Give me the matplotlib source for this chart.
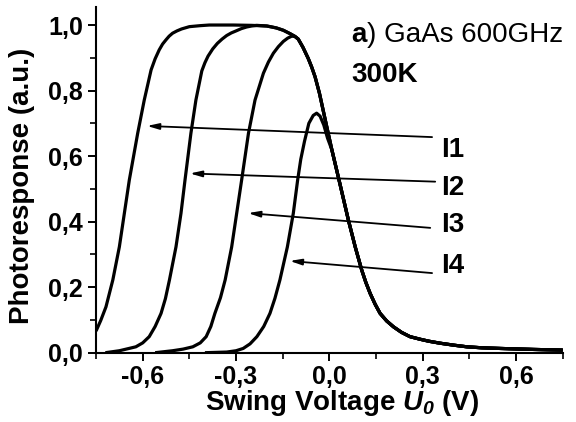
import numpy as np
import matplotlib.pyplot as plt
from matplotlib.ticker import MultipleLocator, FuncFormatter

plt.rcParams['font.family'] = ['Liberation Sans', 'DejaVu Sans']
plt.rcParams['mathtext.fontset'] = 'custom'
plt.rcParams['mathtext.it'] = 'Liberation Sans:italic:bold'
plt.rcParams['mathtext.rm'] = 'Liberation Sans:italic:bold'

# shared plateau end + falling tail (all curves merge into it)
tail_x = [-0.201, -0.185, -0.170, -0.148, -0.125, -0.112, -0.100, -0.085, -0.068,
          -0.057, -0.046, -0.032, -0.012, 0.008, 0.031, 0.061, 0.083, 0.104, 0.117,
          0.131, 0.147, 0.163, 0.184, 0.206, 0.232, 0.259, 0.292, 0.320, 0.356,
          0.400, 0.442, 0.490, 0.549, 0.656, 0.750]
tail_y = [0.997, 0.994, 0.991, 0.984, 0.973, 0.966, 0.957, 0.932, 0.898,
          0.872, 0.842, 0.792, 0.705, 0.619, 0.527, 0.405, 0.323, 0.252, 0.215,
          0.181, 0.148, 0.120, 0.097, 0.079, 0.062, 0.049, 0.041, 0.035, 0.029,
          0.023, 0.018, 0.015, 0.013, 0.010, 0.008]

# rising edges
rise1_x = [-0.750, -0.735, -0.718, -0.696, -0.675, -0.659, -0.643, -0.616, -0.595,
           -0.573, -0.560, -0.547, -0.536, -0.525, -0.515, -0.504, -0.490, -0.475,
           -0.450, -0.416, -0.386, -0.309, -0.250]
rise1_y = [0.066, 0.098, 0.140, 0.222, 0.323, 0.425, 0.527, 0.670, 0.771,
           0.863, 0.897, 0.924, 0.942, 0.955, 0.966, 0.975, 0.982, 0.988,
           0.995, 0.998, 1.000, 1.000, 0.999]

rise2_x = [-0.720, -0.675, -0.622, -0.600, -0.579, -0.560, -0.541, -0.527, -0.514,
           -0.493, -0.477, -0.464, -0.445, -0.429, -0.410, -0.400, -0.390, -0.375,
           -0.360, -0.345, -0.330, -0.315, -0.300, -0.283, -0.266, -0.250, -0.233]
rise2_y = [0.000, 0.006, 0.018, 0.030, 0.049, 0.080, 0.120, 0.165, 0.222,
           0.323, 0.425, 0.527, 0.670, 0.771, 0.860, 0.885, 0.905, 0.927,
           0.944, 0.957, 0.968, 0.976, 0.982, 0.989, 0.994, 0.997, 0.999]

rise3_x = [-0.560, -0.504, -0.470, -0.439, -0.415, -0.396, -0.381, -0.368, -0.350,
           -0.335, -0.314, -0.298, -0.282, -0.260, -0.239, -0.212, -0.196, -0.180,
           -0.164, -0.148, -0.134, -0.121, -0.110]
rise3_y = [0.000, 0.006, 0.011, 0.018, 0.030, 0.049, 0.080, 0.120, 0.168,
           0.222, 0.323, 0.425, 0.527, 0.670, 0.771, 0.853, 0.887, 0.914,
           0.934, 0.950, 0.960, 0.966, 0.965]

rise4_x = [-0.400, -0.330, -0.300, -0.277, -0.255, -0.233, -0.211, -0.191, -0.175,
           -0.159, -0.135, -0.116, -0.102, -0.092, -0.080, -0.066, -0.052, -0.041,
           -0.030, -0.018, -0.006]
rise4_y = [0.000, 0.002, 0.006, 0.013, 0.027, 0.049, 0.080, 0.120, 0.166,
           0.222, 0.323, 0.425, 0.527, 0.590, 0.645, 0.700, 0.724, 0.731,
           0.722, 0.695, 0.655]

# where each curve joins the common tail
join_x = [-0.201, -0.201, -0.100, 0.0]

labels = ['I1', 'I2', 'I3', 'I4']
arrow_head = [(-0.586, 0.692), (-0.448, 0.547), (-0.261, 0.426), (-0.127, 0.280)]
arrow_tail = [(0.330, 0.658), (0.340, 0.522), (0.324, 0.381), (0.330, 0.243)]
label_y = [0.597, 0.481, 0.368, 0.243]

fig = plt.figure(figsize=(5.76, 4.22), dpi=100)
ax = fig.add_axes([0.1667, 0.1642, 0.8103, 0.8192])

tx = np.array(tail_x)
ty = np.array(tail_y)
rises = [(rise1_x, rise1_y), (rise2_x, rise2_y), (rise3_x, rise3_y), (rise4_x, rise4_y)]
for (rx, ry), jx in zip(rises, join_x):
    m = tx >= jx
    x = np.concatenate([rx, tx[m]])
    y = np.concatenate([ry, ty[m]])
    ax.plot(x, y, color='black', lw=2.3, solid_joinstyle='round', solid_capstyle='butt')

for lab, h, t, ly in zip(labels, arrow_head, arrow_tail, label_y):
    ax.annotate('', xy=h, xytext=t,
                arrowprops=dict(arrowstyle='-|>,head_length=0.7,head_width=0.18',
                                lw=1.3, color='black', shrinkA=0, shrinkB=0))
    ax.text(0.36, ly, lab, fontsize=20, fontweight='bold', va='baseline', ha='left')

ta = ax.text(0.071, 0.948, 'a', fontsize=20, fontweight='bold', va='baseline')
ax.annotate(') GaAs 600GHz', xy=(1, 0), xycoords=ta, fontsize=20,
            va='bottom', ha='left')
ax.text(0.071, 0.826, '300K', fontsize=20, fontweight='bold', va='baseline')

ax.set_xlim(-0.75, 0.75)
ax.set_ylim(0, 1.055)

ax.xaxis.set_major_locator(MultipleLocator(0.3))
ax.xaxis.set_minor_locator(MultipleLocator(0.15))
ax.yaxis.set_major_locator(MultipleLocator(0.2))
ax.yaxis.set_minor_locator(MultipleLocator(0.1))
fmt = FuncFormatter(lambda v, p: '{:.1f}'.format(v + 0.0).replace('.', ','))
ax.xaxis.set_major_formatter(fmt)
ax.yaxis.set_major_formatter(fmt)

for side in ['top', 'right']:
    ax.spines[side].set_visible(False)
for side in ['left', 'bottom']:
    ax.spines[side].set_linewidth(1.5)

ax.tick_params(which='major', direction='out', length=6, width=1.4,
               labelsize=18, pad=2.5)
ax.tick_params(axis='y', which='major', pad=3.5)
ax.tick_params(which='minor', direction='out', length=4, width=1.2)
for lbl in ax.get_xticklabels() + ax.get_yticklabels():
    lbl.set_fontweight('bold')

fig.text(0.038, 0.559, 'Photoresponse (a.u.)', rotation=90, fontsize=20,
         fontweight='bold', ha='center', va='center')
fig.text(0.5946, 0.028, r'Swing Voltage $\mathit{U_0}$ (V)', fontsize=20,
         fontweight='bold', ha='center', va='baseline')

fig.savefig('out.png', dpi=100)
